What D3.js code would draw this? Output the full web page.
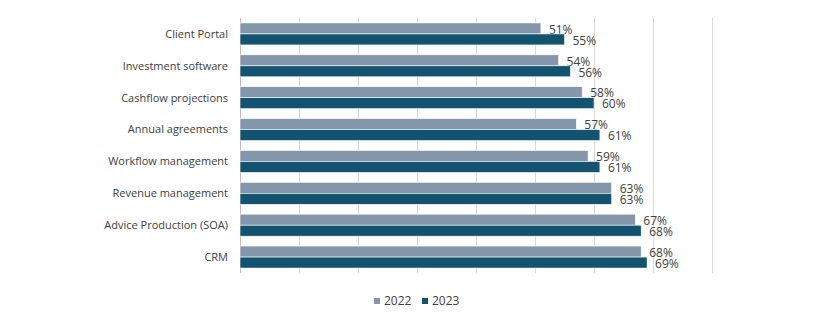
<!DOCTYPE html>
<html><head><meta charset="utf-8">
<script src="https://cdn.jsdelivr.net/npm/d3@7"></script>
<style>body{margin:0;background:#fff}svg{display:block}</style>
</head><body>
<svg id="c" width="830" height="322"></svg>
<script>
const categories = ["Client Portal","Investment software","Cashflow projections","Annual agreements","Workflow management","Revenue management","Advice Production (SOA)","CRM"];
const values2022 = [0.51,0.54,0.58,0.57,0.59,0.63,0.67,0.68];
const values2023 = [0.55,0.56,0.60,0.61,0.61,0.63,0.68,0.69];
const seriesNames = ["2022","2023"];
const xTicks = [0,0.1,0.2,0.3,0.4,0.5,0.6,0.7,0.8];
const colors = ["#8497AA","#12546F"];

const svg = d3.select("#c");
const font = "'Open Sans', Lato, sans-serif";
const x = d3.scaleLinear().domain([0,0.8]).range([240,712]);
const y = d3.scaleBand().domain(categories).range([18,273]).paddingInner(0.31).paddingOuter(0.155);
const y2 = d3.scaleBand().domain(seriesNames).range([0,y.bandwidth()]);

// gridlines
svg.append("g").selectAll("line").data(xTicks).join("line")
  .attr("x1",d=>x(d)).attr("x2",d=>x(d)).attr("y1",18).attr("y2",273)
  .attr("stroke",d=>d===0?"#bfbfbf":"#d9d9d9").attr("stroke-width",1)
  .attr("shape-rendering","crispEdges");

const series = [values2022, values2023];
series.forEach((vals,si)=>{
  const g = svg.append("g");
  g.selectAll("rect").data(categories).join("rect")
    .attr("x",x(0)).attr("y",(c)=>y(c)+y2(seriesNames[si]))
    .attr("width",(c,i)=>x(vals[i])-x(0)).attr("height",y2.bandwidth())
    .attr("fill",colors[si]).attr("stroke","#fff").attr("stroke-width",0.6);
  g.selectAll("text").data(categories).join("text")
    .attr("x",(c,i)=>x(vals[i])+8)
    .attr("y",(c)=>y(c)+y2(seriesNames[si])+y2.bandwidth()/2+1)
    .attr("dy","0.35em")
    .attr("font-family",font).attr("font-size",12).attr("fill","#404040")
    .text((c,i)=>d3.format(".0%")(vals[i]));
});

// category labels
svg.append("g").selectAll("text").data(categories).join("text")
  .attr("x",228).attr("y",c=>y(c)+y.bandwidth()/2).attr("dy","0.35em")
  .attr("text-anchor","end").attr("font-family",font).attr("font-size",11).attr("fill","#404040")
  .text(c=>c);

// legend
const lg = svg.append("g");
const lx = [374,422];
seriesNames.forEach((s,i)=>{
  lg.append("rect").attr("x",lx[i]).attr("y",298).attr("width",6).attr("height",6).attr("fill",colors[i]);
  lg.append("text").attr("x",lx[i]+10).attr("y",301).attr("dy","0.35em")
    .attr("font-family",font).attr("font-size",12).attr("fill","#404040").text(s);
});
</script>
</body></html>
